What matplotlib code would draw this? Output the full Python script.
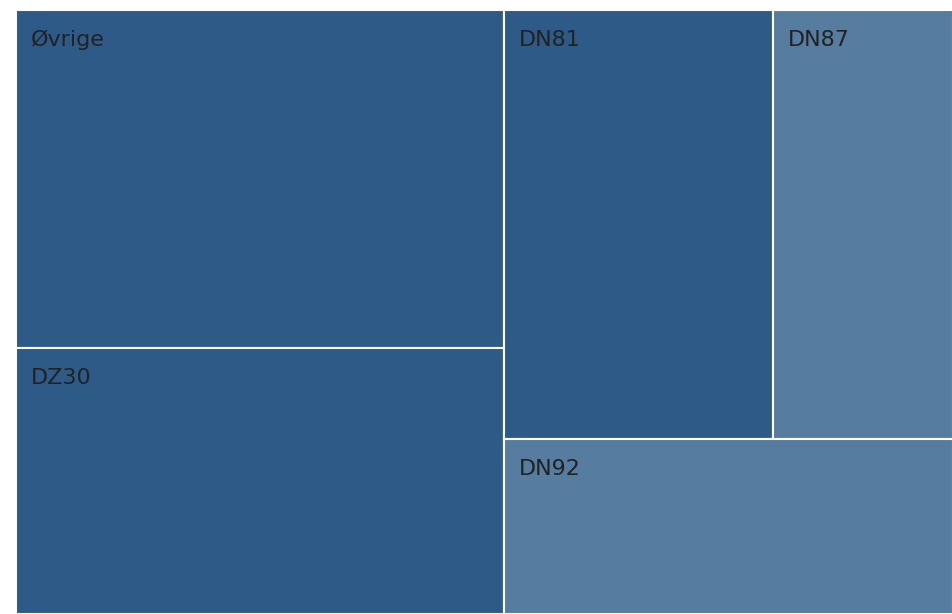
import math

import matplotlib
matplotlib.use("Agg")
import matplotlib.pyplot as plt
from matplotlib.patches import Rectangle

# share of each tile (per cent, read from tile areas)
labels = ["Øvrige", "DZ30", "DN81", "DN87", "DN92"]
values = [29.14, 22.94, 20.39, 13.64, 13.88]
colors = ["#2e5a87", "#2e5a87", "#2e5a87", "#567ca0", "#567ca0"]

PHI = (1 + math.sqrt(5)) / 2


def squarify(vals, x0, y0, x1, y1, ratio=PHI):
    """d3-style squarified layout, keeps the given order."""
    rects = [None] * len(vals)
    total = sum(vals)
    i0 = i1 = 0
    n = len(vals)
    while i0 < n:
        dx, dy = x1 - x0, y1 - y0
        s = vals[i1]
        i1 += 1
        vmin = vmax = s
        alpha = max(dy / dx, dx / dy) / (total * ratio)
        beta = s * s * alpha
        best = max(vmax / beta, beta / vmin)
        while i1 < n:
            v = vals[i1]
            s += v
            vmin, vmax = min(vmin, v), max(vmax, v)
            beta = s * s * alpha
            r = max(vmax / beta, beta / vmin)
            if r > best:
                s -= v
                break
            best = r
            i1 += 1
        idx = range(i0, i1)
        if dx < dy:
            # row across the top
            h = dy * s / total
            cx = x0
            for k in idx:
                w = dx * vals[k] / s
                rects[k] = (cx, y0, w, h)
                cx += w
            y0 += h
        else:
            # column at the left
            w = dx * s / total
            cy = y0
            for k in idx:
                h = dy * vals[k] / s
                rects[k] = (x0, cy, w, h)
                cy += h
            x0 += w
        total -= s
        i0 = i1
    return rects


fig = plt.figure(figsize=(9.53, 6.14), dpi=100)
W, H = 937, 604
ax = fig.add_axes([16 / 953, 0, W / 953, H / 614])
ax.set_xlim(0, W)
ax.set_ylim(H, 0)
ax.axis("off")

for lab, col, (x, y, w, h) in zip(labels, colors, squarify(values, 0, 0, W, H)):
    ax.add_patch(Rectangle((x, y), w, h, facecolor=col, edgecolor="white",
                           linewidth=1.5, clip_on=True))
    ax.annotate(lab, (x, y), xytext=(15, -20), textcoords="offset pixels",
                ha="left", va="top", fontsize=16, color="#222222",
                family="DejaVu Sans")

fig.savefig("out.png", dpi=100)
